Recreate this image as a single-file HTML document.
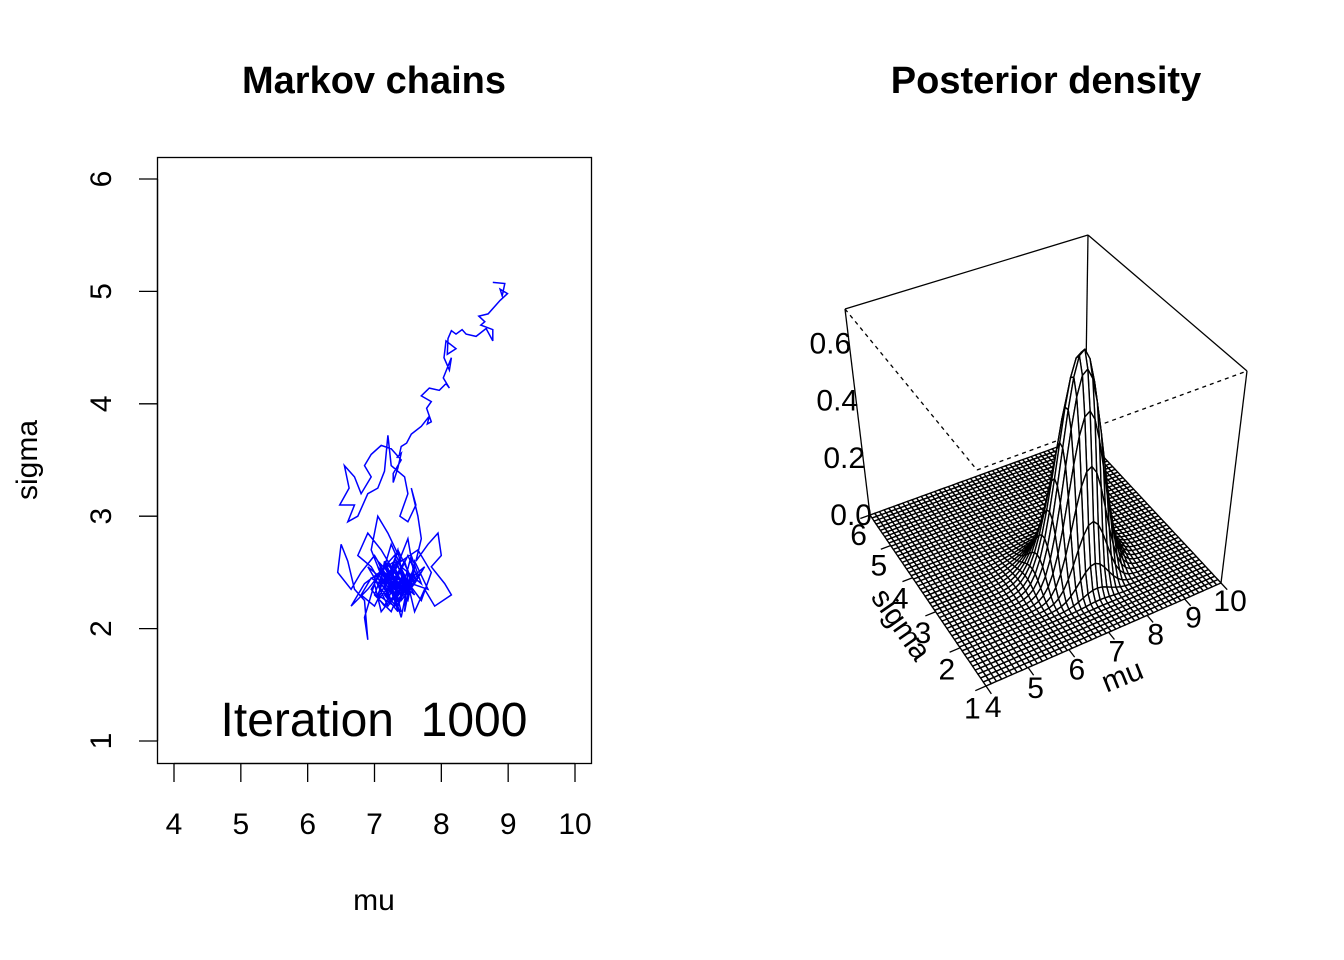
<!DOCTYPE html>
<html><head><meta charset="utf-8"><style>
html,body{margin:0;padding:0;background:#fff;}
svg{display:block;font-family:"Liberation Sans",Arial,sans-serif;}
</style></head><body>
<svg id="root" width="1344" height="960" viewBox="0 0 1344 960">
<rect x="0" y="0" width="1344" height="960" fill="#fff"/>
<g id="left"></g>
<g id="right"></g>
</svg>
<script>
const chainMu=[8.77,8.95,8.91,8.88,8.99,8.88,8.70,8.56,8.65,8.59,8.77,8.77,8.67,8.52,8.37,8.31,8.22,8.15,8.10,8.09,8.22,8.07,8.04,8.12,8.15,8.03,8.12,8.07,7.97,7.82,7.70,7.85,7.78,7.85,7.79,7.82,7.70,7.55,7.48,7.40,7.37,7.33,7.40,7.35,7.28,7.28,7.40,
7.25,7.10,6.95,6.85,6.95,6.80,6.70,6.55,6.62,6.48,6.70,6.60,6.75,6.90,7.05,7.15,7.20,7.25,7.45,7.50,7.38,7.50,7.62,7.55,7.65,7.70,7.62,7.80,7.95,8.00,7.85,8.05,8.15,7.90,7.75,7.60,7.50,7.40,7.30,7.10,7.00,6.85,6.90,6.85,6.70,6.60,6.50,6.45,6.65,6.80,7.00,7.20,7.35,7.45,7.60,7.50,7.25,7.05,7.15,7.35,7.55,7.70,7.40,7.20,6.95,6.75,6.90,7.10,7.30,7.50,7.60,7.35,7.15,7.00,7.25,7.45,7.70,7.85,7.65,7.40,7.20,7.05,6.95,7.15,7.40,7.60,7.30,6.85,6.65,6.90,7.10,7.30,7.50,7.45,7.60,7.80,7.55,7.30,7.20,7.40,
7.10,7.25,7.05,7.35,7.15,7.45,7.20,7.00,7.30,7.50,7.25,7.40,7.10,6.90,7.20,7.35,7.55,7.30,7.15,7.45,7.60,7.35,7.20,7.05,7.30,7.50,7.40,7.25,7.10,7.35,7.55,7.45,7.20,6.95,6.80,7.00,7.25,7.40,7.65,7.50,7.30,7.15,7.35,7.20,7.45,7.30,7.10,7.25,7.40,7.55,7.35,7.15,7.05,7.30,7.50,7.70,7.45,7.25,7.35,7.20,7.40,7.60,7.75,7.55,7.30,7.10,6.95,7.15,7.35,7.50,7.25,7.40];
const chainSigma=[5.08,5.07,4.96,5.02,4.98,4.92,4.80,4.78,4.73,4.70,4.66,4.56,4.67,4.60,4.62,4.66,4.62,4.65,4.58,4.44,4.49,4.56,4.41,4.30,4.41,4.23,4.14,4.18,4.12,4.14,4.07,4.02,3.96,3.84,3.82,3.89,3.80,3.73,3.65,3.62,3.54,3.52,3.56,3.43,3.30,3.38,3.50,
3.60,3.63,3.55,3.45,3.35,3.20,3.35,3.45,3.25,3.10,3.10,2.95,3.00,3.20,3.25,3.40,3.72,3.45,3.35,3.20,3.00,2.95,3.10,3.25,3.00,2.80,2.60,2.75,2.85,2.65,2.55,2.40,2.30,2.20,2.35,2.15,2.40,2.10,2.30,2.15,2.40,2.10,1.90,2.25,2.35,2.60,2.75,2.50,2.35,2.50,2.65,2.45,2.70,2.35,2.55,2.25,2.40,2.25,2.60,2.20,2.65,2.40,2.55,2.30,2.55,2.65,2.85,2.70,2.50,2.80,2.45,2.30,2.55,2.30,2.15,2.45,2.25,2.50,2.70,2.60,2.85,3.00,2.70,2.40,2.40,2.30,2.60,2.40,2.20,2.35,2.50,2.35,2.50,2.15,2.60,2.35,2.40,2.45,2.60,2.30,
2.45,2.25,2.55,2.35,2.60,2.40,2.20,2.45,2.65,2.30,2.50,2.15,2.35,2.55,2.40,2.70,2.45,2.25,2.50,2.35,2.55,2.20,2.40,2.60,2.45,2.30,2.55,2.75,2.45,2.25,2.40,2.60,2.35,2.45,2.30,2.20,2.50,2.35,2.45,2.65,2.40,2.30,2.15,2.50,2.35,2.55,2.40,2.25,2.45,2.35,2.60,2.45,2.30,2.20,2.40,2.50,2.30,2.45,2.60,2.35,2.25,2.40,2.55,2.45,2.30,2.50,2.35,2.20,2.45,2.35,2.55,2.40];
const xTicks=[4,5,6,7,8,9,10];
const yTicks=[1,2,3,4,5,6];
const zTicks=[0.0,0.2,0.4,0.6];
const zTickLabels=["0.0","0.2","0.4","0.6"];
const surfMuTicks=[4,5,6,7,8,9,10];
const surfSigmaTicks=[1,2,3,4,5,6];
const postMean=[7.28], postSd=[2.45], postN=[28], postPeak=[0.78];

const NS="http://www.w3.org/2000/svg";
function mk(tag,attrs,parent){const e=document.createElementNS(NS,tag);for(const k in attrs)e.setAttribute(k,attrs[k]);parent.appendChild(e);return e;}
const L=document.getElementById('left'), R=document.getElementById('right');
const xS=v=>174+(v-4)*(575-174)/6, yS=v=>741-(v-1)*(741-179)/5;
let t=mk('text',{x:374,y:93,'text-anchor':'middle','font-size':38,'font-weight':'bold'},L);t.textContent='Markov chains';

let b=mk('rect',{x:157.5,y:157.5,width:434,height:606,fill:'none',stroke:'#000','stroke-width':1.3},L);

let ax=mk('g',{},L);
mk('line',{x1:xS(4),x2:xS(10),y1:763.5,y2:763.5,stroke:'#000','stroke-width':1.3},ax);
xTicks.forEach(v=>{mk('line',{x1:xS(v),x2:xS(v),y1:763.5,y2:782,stroke:'#000','stroke-width':1.3},ax);
 const e=mk('text',{x:xS(v),y:834,'text-anchor':'middle','font-size':30},ax);e.textContent=v;
 });
let ay=mk('g',{},L);
mk('line',{x1:157.5,x2:157.5,y1:yS(1),y2:yS(6),stroke:'#000','stroke-width':1.3},ay);
yTicks.forEach(v=>{mk('line',{x1:157.5,x2:139,y1:yS(v),y2:yS(v),stroke:'#000','stroke-width':1.3},ay);
 const e=mk('text',{x:0,y:0,'text-anchor':'middle','font-size':30,transform:`translate(111,${yS(v)}) rotate(-90)`},ay);e.textContent=v;
 });
t=mk('text',{x:374,y:910,'text-anchor':'middle','font-size':30},L);t.textContent='mu';

t=mk('text',{x:0,y:0,'text-anchor':'middle','font-size':30,transform:'translate(37,460) rotate(-90)'},L);t.textContent='sigma';

let pts=chainMu.map((m,i)=>xS(m).toFixed(1)+','+yS(chainSigma[i]).toFixed(1)).join(' ');
let pl=mk('polyline',{points:pts,fill:'none',stroke:'#0000ff','stroke-width':1.5,'stroke-linejoin':'miter'},L);

t=mk('text',{x:374,y:736,'text-anchor':'middle','font-size':48},L);t.textContent='Iteration\u00a0 1000';


t=mk('text',{x:1046,y:93,'text-anchor':'middle','font-size':38,'font-weight':'bold'},R);t.textContent='Posterior density';

function homog(p0,p1,p2,p3){const [x0,y0]=p0,[x1,y1]=p1,[x2,y2]=p2,[x3,y3]=p3;
 const dx1=x1-x2,dx2=x3-x2,dx3=x0-x1+x2-x3,dy1=y1-y2,dy2=y3-y2,dy3=y0-y1+y2-y3;
 const den=dx1*dy2-dx2*dy1;const g=(dx3*dy2-dx2*dy3)/den,h=(dx1*dy3-dx3*dy1)/den;
 const a=x1-x0+g*x1,bb=x3-x0+h*x3,c=x0,d=y1-y0+g*y1,e=y3-y0+h*y3,f=y0;
 return (u,v)=>{const w=g*u+h*v+1;return [(a*u+bb*v+c)/w,(d*u+e*v+f)/w];};}
const A=[870,515],B=[986,686],C=[1221,583],D=[1085,437];
const A2=[845,309],B2=[977,470],C2=[1247,371],D2=[1088,235];
const floorH=homog(B,C,D,A), topH=homog(B2,C2,D2,A2);
const ZMAX=0.72;
function P(mu,sig,z){const u=(mu-4)/6,v=(sig-1)/5;const p=floorH(u,v),q=topH(u,v);const f=z/ZMAX;return [p[0]+(q[0]-p[0])*f,p[1]+(q[1]-p[1])*f];}
const st={stroke:'#000','stroke-width':1.3,fill:'none'};
function ln(p,q,extra,name){const e=mk('line',Object.assign({x1:p[0],y1:p[1],x2:q[0],y2:q[1]},st,extra||{}),R);}
ln(D2,D,{},'box-edge-back');
ln(A2,B2,{'stroke-dasharray':'4,4'},'box-edge-hidden');
ln(B2,C2,{'stroke-dasharray':'4,4'},'box-edge-hidden');
const NM=50,NSG=50;
const mus=[],sigs=[];for(let i=0;i<NM;i++)mus.push(4+6*i/(NM-1));for(let j=0;j<NSG;j++)sigs.push(1+5*j/(NSG-1));
const n=postN[0],s2=postSd[0]*postSd[0],yb=postMean[0];
function lp(m,s){return -n*Math.log(s)-n*(s2+(yb-m)*(yb-m))/(2*s*s);}
let mx=-Infinity;const Z=[];for(let i=0;i<NM;i++){Z.push([]);for(let j=0;j<NSG;j++){const v=lp(mus[i],sigs[j]);Z[i].push(v);if(v>mx)mx=v;}}
for(let i=0;i<NM;i++)for(let j=0;j<NSG;j++)Z[i][j]=postPeak[0]*Math.exp(Z[i][j]-mx);
const quads=[];
for(let i=0;i<NM-1;i++)for(let j=0;j<NSG-1;j++){
 const c=floorH((mus[i]-4+3/(NM-1))/6,(sigs[j]-1+2.5/(NSG-1))/5);
 quads.push({i,j,d:c[1]});}
quads.sort((a,b)=>a.d-b.d);
const sg=mk('g',{fill:'#fff',stroke:'#000','stroke-width':1.4,'stroke-linejoin':'round'},R);

quads.forEach(q=>{const {i,j}=q;
 const ps=[P(mus[i],sigs[j],Z[i][j]),P(mus[i+1],sigs[j],Z[i+1][j]),P(mus[i+1],sigs[j+1],Z[i+1][j+1]),P(mus[i],sigs[j+1],Z[i][j+1])];
 const e=mk('polygon',{points:ps.map(p=>p[0].toFixed(1)+','+p[1].toFixed(1)).join(' ')},sg);
 });
ln(A2,A,{},'box-edge');ln(A2,D2,{},'box-edge');ln(D2,C2,{},'box-edge');ln(C2,C,{},'box-edge');
surfSigmaTicks.forEach(v=>{const p=P(4,v,0),q=P(3.75,v,0);ln(p,q,{},'sigma-tick');
 const l=P(3.45,v,0);const e=mk('text',{x:l[0]+10,y:l[1]+22,'text-anchor':'middle','font-size':30},R);e.textContent=v;
 });
surfMuTicks.forEach(v=>{const p=P(v,1,0),q=P(v,0.8,0);ln(p,q,{},'mu-tick');
 const l=P(v,0.55,0);const e=mk('text',{x:l[0]-5,y:l[1]+13,'text-anchor':'middle','font-size':30},R);e.textContent=v;
 });
zTicks.forEach((v,k)=>{const p=P(4,6,v);const e=mk('text',{x:p[0]+2,y:p[1]+10,'text-anchor':'end','font-size':30},R);e.textContent=zTickLabels[k];
 });
t=mk('text',{x:0,y:0,'text-anchor':'middle','font-size':30,transform:'translate(893,630) rotate(55)'},R);t.textContent='sigma';

t=mk('text',{x:0,y:0,'text-anchor':'middle','font-size':30,transform:'translate(1126,685) rotate(-22)'},R);t.textContent='mu';

</script>
</body></html>
